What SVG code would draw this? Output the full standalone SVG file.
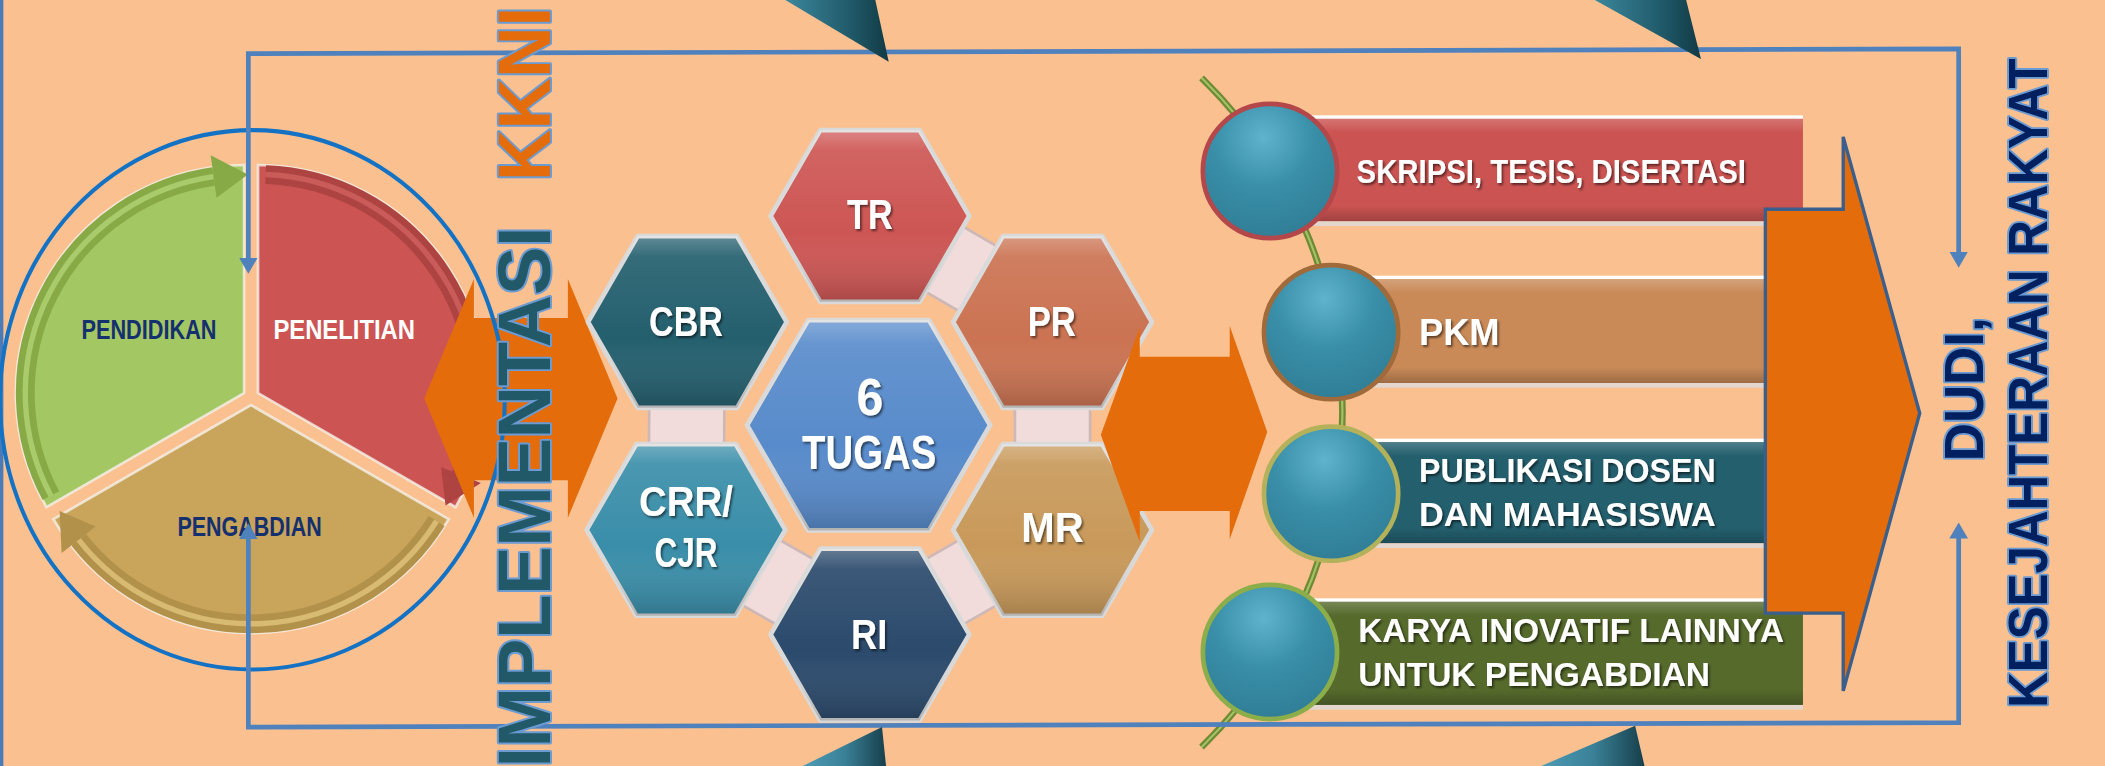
<svg xmlns="http://www.w3.org/2000/svg" xmlns:xlink="http://www.w3.org/1999/xlink" width="2105" height="766" viewBox="0 0 2105 766">
<style>
.lbl{font-family:"Liberation Sans",Arial,sans-serif;font-weight:bold}
.w{fill:#ffffff}
.navy{fill:#14306E}
.hx{stroke:#D9D9D9;stroke-width:3.5;stroke-linejoin:round}
.sh{stroke:none}
.conn{fill:none;stroke:#4F81BD;stroke-width:3.5;stroke-linejoin:miter;marker-start:url(#ah);marker-end:url(#ah)}
.orange{fill:#E46C0A}
.band{fill:none;stroke-width:14}
.sec{stroke:#F4F0EA;stroke-width:2;stroke-opacity:0.8}
.link{stroke:#F2DCDB;stroke-width:54}
.linkE{stroke:#CDB8B7;stroke-width:58}
.bartop{fill:#ffffff}
.barbot{fill:#E2D6CF}
.circ{fill:url(#cg);stroke-width:3.5}
.vt{font-family:"Liberation Sans",Arial,sans-serif;font-weight:bold;paint-order:stroke fill;stroke-linejoin:round}
</style>
<defs>
<marker id="ah" viewBox="0 0 12 14" refX="4" refY="7" markerWidth="12" markerHeight="14" markerUnits="userSpaceOnUse" orient="auto-start-reverse">
<path d="M0,0 L12,7 L0,14 z" fill="#4F81BD"/>
</marker>
<polygon id="hs" points="-74,0 -37,-64 37,-64 74,0 37,64 -37,64"/>
<polygon id="hb" points="-90.5,0 -45,-78.4 45,-78.4 90.5,0 45,78.4 -45,78.4"/>
<linearGradient id="sheen" x1="0" y1="0" x2="0" y2="1">
<stop offset="0" stop-color="#ffffff" stop-opacity="0.28"/>
<stop offset="0.12" stop-color="#ffffff" stop-opacity="0.08"/>
<stop offset="0.6" stop-color="#ffffff" stop-opacity="0"/>
<stop offset="1" stop-color="#000000" stop-opacity="0.18"/>
</linearGradient>
<linearGradient id="barsheen" x1="0" y1="0" x2="0" y2="1">
<stop offset="0" stop-color="#ffffff" stop-opacity="0.22"/>
<stop offset="0.15" stop-color="#ffffff" stop-opacity="0"/>
<stop offset="0.85" stop-color="#000000" stop-opacity="0"/>
<stop offset="1" stop-color="#000000" stop-opacity="0.22"/>
</linearGradient>
<radialGradient id="cg" cx="0.45" cy="0.25" r="0.8">
<stop offset="0" stop-color="#5FB3CD"/>
<stop offset="0.45" stop-color="#3A8FA9"/>
<stop offset="1" stop-color="#2F7C94"/>
</radialGradient>
<linearGradient id="spikeT" x1="0" y1="0" x2="1" y2="0">
<stop offset="0" stop-color="#3B879C"/>
<stop offset="0.6" stop-color="#215C6C"/>
<stop offset="1" stop-color="#123A45"/>
</linearGradient>
<linearGradient id="spikeB" x1="0" y1="0" x2="1" y2="0">
<stop offset="0" stop-color="#4E9CB6"/>
<stop offset="0.5" stop-color="#3A8197"/>
<stop offset="1" stop-color="#173F4B"/>
</linearGradient>
<filter id="ts" x="-10%" y="-40%" width="120%" height="180%">
<feDropShadow dx="1.2" dy="1.5" stdDeviation="0.9" flood-color="#000000" flood-opacity="0.55"/>
</filter>
</defs>

<rect x="0" y="0" width="2105" height="766" fill="#FAC090"/>

<g transform="scale(1.342474,1.341506)">
<rect x="0" y="0" width="2.5" height="571" fill="#4A7AB8"/>

<!-- pie -->
<g id="pendidikan">
<path class="sec" d="M181.8,293 L34.6,378 A170,170 0 0 1 181.8,123 Z" fill="#A3C763"/>
<path class="band" d="M37.9,369.5 A163,163 0 0 1 159.1,131.6" stroke="#87AA46"/>
<path class="band" d="M37.9,369.5 A163,163 0 0 1 159.1,131.6" stroke="#A9CB6B" style="stroke-width:4"/>
<polygon points="161.3,147.4 156.9,115.7 184.6,130" fill="#87AA46"/>
<text class="lbl navy" x="111" y="252.7" font-size="20.5" text-anchor="middle" textLength="100.6" lengthAdjust="spacingAndGlyphs">PENDIDIKAN</text>
</g>
<g id="penelitian">
<path class="sec" d="M192.2,293 L192.2,123 A170,170 0 0 1 339.4,378 Z" fill="#CC5553"/>
<path class="band" d="M197.9,130.1 A163,163 0 0 1 343.3,354.1" stroke="#AE4442"/>
<path class="band" d="M197.9,130.1 A163,163 0 0 1 343.3,354.1" stroke="#C95B59" style="stroke-width:4"/>
<polygon points="328.5,348.1 358.2,360.1 331.9,376.9" fill="#AE4442"/>
<text class="lbl w" x="256.4" y="252.7" font-size="20.5" text-anchor="middle" textLength="105.5" lengthAdjust="spacingAndGlyphs">PENELITIAN</text>
</g>
<g id="pengabdian">
<path class="sec" d="M187,302 L334.2,387 A170,170 0 0 1 39.8,387 Z" fill="#C9A45B"/>
<path class="band" d="M325.2,388.4 A163,163 0 0 1 58.6,402.4" stroke="#B2924A"/>
<path class="band" d="M325.2,388.4 A163,163 0 0 1 58.6,402.4" stroke="#D8BA73" style="stroke-width:4"/>
<polygon points="71.2,392.5 45.9,412.2 44.4,381" fill="#B2924A"/>
<text class="lbl navy" x="185.9" y="399.3" font-size="20.5" text-anchor="middle" textLength="107.5" lengthAdjust="spacingAndGlyphs">PENGABDIAN</text>
</g>

<!-- left double arrow -->
<g id="arrow-left">
<polygon class="orange" points="316,297 353,208 353,237 423,237 423,208 460,297 423,386 423,358 353,358 353,386"/>
</g>

<g id="ring">
<ellipse cx="188" cy="298" rx="188" ry="201" fill="none" stroke="#1472C4" stroke-width="3"/>
</g>

<!-- hex links -->
<g id="hex-links">
<line class="linkE" x1="648" y1="161" x2="784" y2="240"/>
<line class="linkE" x1="512" y1="240" x2="511" y2="395"/>
<line class="linkE" x1="784" y1="240" x2="784" y2="395"/>
<line class="linkE" x1="511" y1="395" x2="648" y2="473"/>
<line class="linkE" x1="784" y1="395" x2="648" y2="473"/>
<line class="link" x1="648" y1="161" x2="784" y2="240"/>
<line class="link" x1="512" y1="240" x2="511" y2="395"/>
<line class="link" x1="784" y1="240" x2="784" y2="395"/>
<line class="link" x1="511" y1="395" x2="648" y2="473"/>
<line class="link" x1="784" y1="395" x2="648" y2="473"/>
</g>

<g id="hex-tr">
<use href="#hs" x="648" y="161" class="hx" fill="#CD5654"/>
<use href="#hs" x="648" y="161" class="sh" fill="url(#sheen)"/>
<text class="lbl w" filter="url(#ts)" x="648" y="171" font-size="31" text-anchor="middle" textLength="34" lengthAdjust="spacingAndGlyphs">TR</text>
</g>
<g id="hex-cbr">
<use href="#hs" x="512" y="240" class="hx" fill="#245F6E"/>
<use href="#hs" x="512" y="240" class="sh" fill="url(#sheen)"/>
<text class="lbl w" filter="url(#ts)" x="511" y="250.5" font-size="31" text-anchor="middle" textLength="55" lengthAdjust="spacingAndGlyphs">CBR</text>
</g>
<g id="hex-pr">
<use href="#hs" x="784" y="240" class="hx" fill="#CB7352"/>
<use href="#hs" x="784" y="240" class="sh" fill="url(#sheen)"/>
<text class="lbl w" filter="url(#ts)" x="783.5" y="250.5" font-size="31" text-anchor="middle" textLength="36" lengthAdjust="spacingAndGlyphs">PR</text>
</g>
<g id="hex-center">
<use href="#hb" x="647" y="317" class="hx" fill="#588BCB"/>
<use href="#hb" x="647" y="317" class="sh" fill="url(#sheen)"/>
<text class="lbl w" filter="url(#ts)" x="648" y="309.5" font-size="38" text-anchor="middle" textLength="20" lengthAdjust="spacingAndGlyphs">6</text>
<text class="lbl w" filter="url(#ts)" x="647.5" y="349.6" font-size="36" text-anchor="middle" textLength="100" lengthAdjust="spacingAndGlyphs">TUGAS</text>
</g>
<g id="hex-crr">
<use href="#hs" x="511" y="395" class="hx" fill="#3A8EA9"/>
<use href="#hs" x="511" y="395" class="sh" fill="url(#sheen)"/>
<text class="lbl w" filter="url(#ts)" x="511" y="385" font-size="31" text-anchor="middle" textLength="70" lengthAdjust="spacingAndGlyphs">CRR/</text>
<text class="lbl w" filter="url(#ts)" x="511" y="423" font-size="31" text-anchor="middle" textLength="47" lengthAdjust="spacingAndGlyphs">CJR</text>
</g>
<g id="hex-mr">
<use href="#hs" x="784" y="395" class="hx" fill="#C8995A"/>
<use href="#hs" x="784" y="395" class="sh" fill="url(#sheen)"/>
<text class="lbl w" filter="url(#ts)" x="784" y="404" font-size="31" text-anchor="middle" textLength="46.5" lengthAdjust="spacingAndGlyphs">MR</text>
</g>
<g id="hex-ri">
<use href="#hs" x="648" y="473" class="hx" fill="#2B4A6C"/>
<use href="#hs" x="648" y="473" class="sh" fill="url(#sheen)"/>
<text class="lbl w" filter="url(#ts)" x="647.5" y="484" font-size="31" text-anchor="middle" textLength="27" lengthAdjust="spacingAndGlyphs">RI</text>
</g>

<!-- middle double arrow -->
<g id="arrow-mid">
<polygon class="orange" points="820,324 849,244 849,266 916,266 916,243 944,322 916,402 916,381 849,381 849,404"/>
</g>

<!-- green arc -->
<g id="spine">
<path d="M895,58 A349,349 0 0 1 895,557" fill="none" stroke="#6E8A35" stroke-width="5"/>
<path d="M895,58 A349,349 0 0 1 895,557" fill="none" stroke="#A4C265" stroke-width="1.6"/>
</g>

<g id="item-skripsi">
<rect x="950" y="87" width="393" height="78" fill="#CB5452"/>
<rect x="950" y="87" width="393" height="78" fill="url(#barsheen)"/>
<rect class="bartop" x="950" y="86" width="393" height="2.5"/>
<rect class="barbot" x="950" y="165" width="393" height="3.5"/>
<circle class="circ" cx="946" cy="127.5" r="50" stroke="#B3474A"/>
<text class="lbl w" filter="url(#ts)" x="1010.5" y="136.6" font-size="25" textLength="290" lengthAdjust="spacingAndGlyphs">SKRIPSI, TESIS, DISERTASI</text>
</g>
<g id="item-pkm">
<rect x="995" y="207" width="348" height="78.5" fill="#C98A58"/>
<rect x="995" y="207" width="348" height="78.5" fill="url(#barsheen)"/>
<rect class="bartop" x="995" y="205.5" width="348" height="2.5"/>
<rect class="barbot" x="995" y="285.5" width="348" height="3.5"/>
<circle class="circ" cx="991.5" cy="247.6" r="50" stroke="#A06A3A"/>
<text class="lbl w" filter="url(#ts)" x="1057" y="257" font-size="27" textLength="60" lengthAdjust="spacingAndGlyphs">PKM</text>
</g>
<g id="item-publikasi">
<rect x="995" y="328.5" width="348" height="76.5" fill="#245F6E"/>
<rect x="995" y="328.5" width="348" height="76.5" fill="url(#barsheen)"/>
<rect class="bartop" x="995" y="327" width="348" height="2.5"/>
<rect class="barbot" x="995" y="405" width="348" height="3.5"/>
<circle class="circ" cx="991.5" cy="368" r="50" stroke="#B3B25A"/>
<text class="lbl w" filter="url(#ts)" x="1057" y="359.5" font-size="25" textLength="221" lengthAdjust="spacingAndGlyphs">PUBLIKASI DOSEN</text>
<text class="lbl w" filter="url(#ts)" x="1057" y="392.3" font-size="25" textLength="221" lengthAdjust="spacingAndGlyphs">DAN MAHASISWA</text>
</g>
<g id="item-karya">
<rect x="950" y="447.5" width="393" height="78" fill="#566A2C"/>
<rect x="950" y="447.5" width="393" height="78" fill="url(#barsheen)"/>
<rect class="bartop" x="950" y="446" width="393" height="2.5"/>
<rect class="barbot" x="950" y="525.5" width="393" height="3.5"/>
<circle class="circ" cx="946" cy="486" r="50" stroke="#8CAE4A"/>
<text class="lbl w" filter="url(#ts)" x="1011.8" y="478.7" font-size="24.5" textLength="317" lengthAdjust="spacingAndGlyphs">KARYA INOVATIF LAINNYA</text>
<text class="lbl w" filter="url(#ts)" x="1011.8" y="511.5" font-size="24.5" textLength="262" lengthAdjust="spacingAndGlyphs">UNTUK PENGABDIAN</text>
</g>

<!-- big right arrow -->
<g id="arrow-right">
<polygon class="orange" points="1315,156 1373,156 1373,102 1430,308 1373,515 1373,457 1315,457" stroke="#3A5F8C" stroke-width="2.5" stroke-linejoin="miter"/>
</g>

<!-- connectors -->
<g id="connectors">
<path class="conn" d="M185,196 L185,40 L1459,36.5 L1459,191.5"/>
<path class="conn" d="M185,398 L185,542 L1459,538.7 L1459,397.5"/>
</g>

<!-- spikes -->
<g id="spikes">
<polygon points="585,0 652,0 662,46" fill="url(#spikeT)"/>
<polygon points="1188,0 1256,0 1267,44" fill="url(#spikeT)"/>
<polygon points="598,571 660,571 657,542" fill="url(#spikeB)"/>
<polygon points="1148,571 1225,571 1218,541" fill="url(#spikeB)"/>
</g>

<!-- vertical titles -->
<g id="title-kkni">
<text class="vt" transform="translate(410,572) rotate(-90)" x="0" y="0" font-size="55" fill="#215968" stroke="#6C9BD2" stroke-width="3" textLength="403" lengthAdjust="spacingAndGlyphs">IMPLEMENTASI</text>
<text class="vt" transform="translate(410,135) rotate(-90)" x="0" y="0" font-size="55" fill="#E46C0A" stroke="#6C9BD2" stroke-width="3" textLength="130" lengthAdjust="spacingAndGlyphs">KKNI</text>
</g>
<g id="title-dudi">
<text class="vt" transform="translate(1477.3,343.9) rotate(-90)" x="0" y="0" font-size="41.6" fill="#002060" stroke="#6C9BD2" stroke-width="3" textLength="107.4" lengthAdjust="spacingAndGlyphs">DUDI,</text>
<text class="vt" transform="translate(1524.5,527.6) rotate(-90)" x="0" y="0" font-size="41.6" fill="#002060" stroke="#6C9BD2" stroke-width="3" textLength="484" lengthAdjust="spacingAndGlyphs">KESEJAHTERAAN RAKYAT</text>
</g>
</g>
</svg>
